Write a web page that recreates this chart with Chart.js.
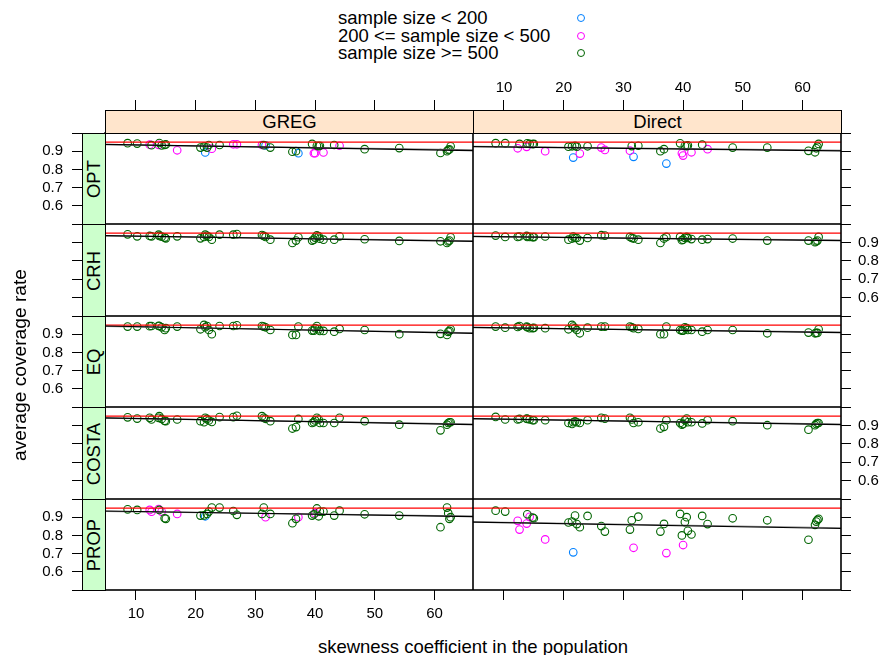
<!DOCTYPE html>
<html><head><meta charset="utf-8">
<script src="https://cdn.jsdelivr.net/npm/chart.js@4/dist/chart.umd.min.js"></script>
<style>
body{margin:0;background:#fff;}
#wrap{position:relative;width:882px;height:655px;overflow:hidden;font-family:"Liberation Sans",Arial,sans-serif;color:#000;}
#wrap canvas{position:absolute;}
.strip{position:absolute;box-sizing:border-box;border:1px solid #000;display:flex;align-items:center;justify-content:center;font-size:18.5px;z-index:5;overflow:hidden;}
.top{background:#ffe5cc;}
.side{background:#ccffcc;}
.side span{transform:rotate(-90deg);white-space:nowrap;display:block;}
.txt{position:absolute;white-space:nowrap;font-size:18.5px;line-height:20px;}
.dot{position:absolute;width:8px;height:8px;box-sizing:border-box;border:1.2px solid;border-radius:50%;}
</style>
</head><body>
<div id="wrap"></div>
<script>
// ---------- data ----------
const methods = ["GREG", "Direct"];
const allocations = ["OPT", "CRH", "EQ", "COSTA", "PROP"];
const sizeLabels = ["sample size < 200", "200 <= sample size < 500", "sample size >= 500"];
const sizeColors = ["#0080ff", "#ff00ff", "#006400"];
const xTicks = [10, 20, 30, 40, 50, 60];
const yTicks = [0.5, 0.6, 0.7, 0.8, 0.9, 1.0];
const target = 0.95;

// skewness coefficient of each population
const skew = [8.6,10.2,12.3,12.6,13.8,13.9,14.3,14.8,15.0,16.9, 20.8,21.4,21.6,21.9,22.2,22.7,24.0,26.3,26.9,31.1, 31.4,31.7,32.5,36.2,36.8,37.2,39.5,39.8,40.0,40.3, 40.6,40.8,41.4,43.2,44.1,48.3,54.1,61.0,62.1,62.3, 62.5,62.7];

// sample size class per population (0: <200, 1: 200-500, 2: >=500)
const classOPT  = [2,2,1,2,1,2,2,2,2,1, 2,2,0,2,2,1,2,1,1,1, 2,0,2,2,2,0,2,1,1,2, 2,2,1,2,1,2,2,2,2,2, 2,2];
const classPROP = [2,2,1,1,1,2,1,2,2,1, 2,2,0,2,2,2,2,2,2,2, 2,1,2,2,2,1,2,2,1,2, 2,2,2,2,2,2,2,2,2,2, 2,2];
const classAll  = [2,2,2,2,2,2,2,2,2,2, 2,2,2,2,2,2,2,2,2,2, 2,2,2,2,2,2,2,2,2,2, 2,2,2,2,2,2,2,2,2,2, 2,2];

// average coverage rate per population
const covGREG_OPT   = [0.944,0.942,0.936,0.933,0.935,0.945,0.932,0.935,0.937,0.905, 0.920,0.925,0.893,0.920,0.934,0.914,0.934,0.938,0.938,0.934, 0.933,0.932,0.920,0.897,0.900,0.889,0.940,0.889,0.889,0.930, 0.928,0.930,0.893,0.934,0.930,0.911,0.917,0.890,0.900,0.907, 0.910,0.927];
const covDirect_OPT = [0.944,0.944,0.916,0.940,0.924,0.943,0.940,0.939,0.940,0.900, 0.925,0.927,0.865,0.929,0.925,0.887,0.927,0.920,0.907,0.903, 0.928,0.869,0.930,0.900,0.911,0.832,0.943,0.889,0.876,0.930, 0.928,0.932,0.894,0.936,0.911,0.920,0.920,0.902,0.894,0.916, 0.925,0.940];
const covGREG_CRH   = [0.944,0.933,0.935,0.933,0.942,0.935,0.931,0.926,0.922,0.933, 0.922,0.930,0.942,0.936,0.930,0.915,0.942,0.942,0.945,0.940, 0.935,0.930,0.915,0.897,0.910,0.928,0.910,0.915,0.926,0.938, 0.933,0.920,0.915,0.915,0.933,0.917,0.908,0.906,0.897,0.905, 0.910,0.928];
const covDirect_CRH = [0.937,0.930,0.930,0.932,0.935,0.930,0.930,0.929,0.929,0.932, 0.915,0.921,0.932,0.924,0.924,0.910,0.924,0.939,0.937,0.930, 0.924,0.921,0.915,0.897,0.921,0.930,0.930,0.912,0.915,0.925, 0.930,0.924,0.918,0.915,0.918,0.921,0.910,0.910,0.901,0.905, 0.910,0.930];
const covGREG_EQ    = [0.942,0.942,0.944,0.945,0.946,0.945,0.938,0.923,0.933,0.942, 0.927,0.951,0.938,0.945,0.923,0.900,0.945,0.945,0.949,0.945, 0.942,0.938,0.923,0.896,0.896,0.942,0.920,0.920,0.933,0.945, 0.927,0.918,0.918,0.914,0.929,0.923,0.900,0.902,0.896,0.913, 0.918,0.927];
const covDirect_EQ  = [0.942,0.936,0.940,0.945,0.942,0.938,0.933,0.933,0.935,0.933, 0.927,0.951,0.942,0.933,0.923,0.905,0.936,0.942,0.942,0.942, 0.938,0.933,0.929,0.900,0.900,0.942,0.923,0.920,0.920,0.938, 0.933,0.923,0.923,0.914,0.923,0.923,0.905,0.909,0.905,0.907, 0.907,0.927];
const covGREG_COSTA   = [0.944,0.937,0.941,0.932,0.941,0.950,0.935,0.925,0.923,0.932, 0.923,0.917,0.941,0.935,0.927,0.919,0.945,0.945,0.952,0.950, 0.941,0.936,0.923,0.883,0.891,0.935,0.913,0.917,0.927,0.941, 0.932,0.913,0.913,0.913,0.941,0.923,0.904,0.873,0.904,0.913, 0.917,0.917];
const covDirect_COSTA = [0.946,0.932,0.932,0.935,0.937,0.935,0.932,0.928,0.928,0.928, 0.913,0.908,0.917,0.922,0.917,0.913,0.928,0.941,0.937,0.941, 0.932,0.913,0.917,0.883,0.892,0.928,0.913,0.904,0.908,0.928, 0.937,0.917,0.917,0.911,0.928,0.923,0.901,0.877,0.901,0.908, 0.913,0.913];
const covGREG_PROP   = [0.943,0.940,0.940,0.930,0.945,0.940,0.931,0.894,0.891,0.918, 0.909,0.910,0.905,0.918,0.931,0.953,0.953,0.934,0.913,0.918, 0.953,0.900,0.918,0.867,0.891,0.900,0.909,0.916,0.922,0.948, 0.905,0.931,0.931,0.909,0.936,0.916,0.909,0.845,0.953,0.922, 0.891,0.900];
const covDirect_PROP = [0.936,0.931,0.880,0.832,0.865,0.916,0.902,0.898,0.894,0.778, 0.871,0.876,0.707,0.909,0.862,0.845,0.907,0.851,0.821,0.832, 0.883,0.732,0.903,0.821,0.863,0.703,0.918,0.800,0.747,0.873, 0.900,0.825,0.805,0.907,0.862,0.894,0.883,0.776,0.858,0.876, 0.885,0.891];

// fitted trend lines: coverage at the left and right ends of the x range
const fitBlackGREG   = [[0.938,0.903],[0.937,0.906],[0.945,0.905],[0.941,0.904],[0.934,0.903]];
const fitBlackDirect = [[0.925,0.902],[0.933,0.910],[0.938,0.909],[0.937,0.904],[0.873,0.838]];
const fitGreyGREG    = [[0.936,0.907],[0.935,0.909],[0.943,0.908],[0.939,0.907],[0.932,0.906]];
const fitGreyDirect  = [[0.927,0.905],[0.931,0.912],[0.936,0.911],[0.935,0.907],[0.875,0.842]];
const xRange = [4.81, 66.45];
const yRange = [0.5, 1.0];

// ---------- build ----------
const coverage = {
  GREG:   {OPT: covGREG_OPT, CRH: covGREG_CRH, EQ: covGREG_EQ, COSTA: covGREG_COSTA, PROP: covGREG_PROP},
  Direct: {OPT: covDirect_OPT, CRH: covDirect_CRH, EQ: covDirect_EQ, COSTA: covDirect_COSTA, PROP: covDirect_PROP}
};
const sizeClass = {OPT: classOPT, CRH: classAll, EQ: classAll, COSTA: classAll, PROP: classPROP};
const fitBlack = {GREG: fitBlackGREG, Direct: fitBlackDirect};
const fitGrey = {GREG: fitGreyGREG, Direct: fitGreyDirect};

const W = 882, H = 655;
const COLS = [105, 473, 841];
const ROWS = [133, 224, 316, 407, 499, 590];
const FONT = '"Liberation Sans", Arial, sans-serif';
const wrap = document.getElementById('wrap');

const borderPlugin = {
  id: 'panelBorder',
  afterDraw(chart) {
    const a = chart.chartArea, ctx = chart.ctx;
    ctx.save();
    ctx.strokeStyle = '#000';
    ctx.lineWidth = 1.6;
    ctx.strokeRect(a.left, a.top, a.right - a.left, a.bottom - a.top);
    ctx.restore();
  }
};

function yLabel(v) {
  if (Math.abs(v - 0.5) < 1e-9 || Math.abs(v - 1) < 1e-9) return '';
  return v.toFixed(1);
}

function axisCommon(tickLen, pad, showLabels, fmt) {
  return {
    grid: {display: true, drawOnChartArea: false, drawTicks: true, tickLength: tickLen, color: '#000', lineWidth: 1},
    border: {display: false},
    ticks: {color: '#000', font: {family: FONT, size: 15}, padding: pad, maxRotation: 0, autoSkip: false,
            callback: (v) => showLabels ? fmt(v) : ''}
  };
}

function fixSize(prop, val) {
  return (s) => {
    s[prop] = val;
    s.paddingTop = 0; s.paddingBottom = 0; s.paddingLeft = 0; s.paddingRight = 0;
  };
}

function buildPanel(c, r) {
  const method = methods[c], alloc = allocations[r];
  const x0 = COLS[c], x1 = COLS[c + 1], y0 = ROWS[r], y1 = ROWS[r + 1];
  const mL = c === 0 ? x0 : 0;
  const mR = c === 1 ? W - x1 : 0;
  const mT = r === 0 ? 63 : 0;
  const mB = r === 4 ? 45 : 0;
  const w = x1 - x0 + mL + mR, h = y1 - y0 + mT + mB;
  const cv = document.createElement('canvas');
  cv.width = w; cv.height = h;
  cv.style.left = (x0 - mL) + 'px'; cv.style.top = (y0 - mT) + 'px';
  cv.style.width = w + 'px'; cv.style.height = h + 'px';
  wrap.appendChild(cv);

  const ys = coverage[method][alloc];
  const cls = sizeClass[alloc];
  const bl = fitBlack[method][r], gr = fitGrey[method][r];
  const lineDs = (vals, color, label) => ({
    type: 'line', label: label, showLine: true,
    data: [{x: xRange[0], y: vals[0]}, {x: xRange[1], y: vals[1]}],
    borderColor: color, borderWidth: 1.2, pointRadius: 0, fill: false
  });
  const datasets = [
    lineDs(bl, '#000000', 'fit'),
    lineDs(gr, '#7f7f7f', 'fit2'),
    lineDs([target, target], '#ff0000', 'target 0.95')
  ];
  for (let k = 2; k >= 0; k--) {
    const pts = [];
    skew.forEach((sx, i) => { if (cls[i] === k) pts.push({x: sx, y: ys[i]}); });
    datasets.push({
      type: 'scatter', label: sizeLabels[k], data: pts,
      pointStyle: 'circle', pointRadius: 3.8, pointBorderWidth: 1.1,
      pointBackgroundColor: 'rgba(0,0,0,0)', pointBorderColor: sizeColors[k],
      borderColor: sizeColors[k], backgroundColor: 'rgba(0,0,0,0)', showLine: false
    });
  }

  const xFmt = (v) => String(v);
  const setX = (s) => { s.ticks = xTicks.map(v => ({value: v})); };
  const setY = (s) => { s.ticks = yTicks.map(v => ({value: v})); };

  new Chart(cv, {
    type: 'scatter',
    data: {datasets},
    options: {
      responsive: false, animation: false, devicePixelRatio: 1,
      layout: {padding: 0, autoPadding: false},
      plugins: {legend: {display: false}, tooltip: {enabled: false}},
      events: [],
      scales: {
        x: Object.assign({type: 'linear', position: 'bottom', min: xRange[0], max: xRange[1], display: r === 4,
              afterBuildTicks: setX, afterFit: fixSize('height', mB)},
              axisCommon(10, 5, c === 0, xFmt)),
        xTop: Object.assign({type: 'linear', position: 'top', min: xRange[0], max: xRange[1], display: r === 0,
              afterBuildTicks: setX, afterFit: fixSize('height', mT)},
              axisCommon(33, 3, c === 1, xFmt)),
        y: Object.assign({type: 'linear', position: 'left', min: yRange[0], max: yRange[1], display: c === 0,
              afterBuildTicks: setY, afterFit: fixSize('width', mL)},
              axisCommon(33, 9, r % 2 === 0, yLabel)),
        yRight: Object.assign({type: 'linear', position: 'right', min: yRange[0], max: yRange[1], display: c === 1,
              afterBuildTicks: setY, afterFit: fixSize('width', mR)},
              axisCommon(10, 7, r % 2 === 1, yLabel))
      }
    },
    plugins: [borderPlugin]
  });
}

for (let r = 0; r < 5; r++) for (let c = 0; c < 2; c++) buildPanel(c, r);

// strips
methods.forEach((m, c) => {
  const d = document.createElement('div');
  d.className = 'strip top';
  d.style.left = COLS[c] + 'px'; d.style.top = '110px';
  d.style.width = (COLS[c + 1] - COLS[c] + 1) + 'px'; d.style.height = '24px';
  d.textContent = m;
  wrap.appendChild(d);
});
allocations.forEach((a, r) => {
  const d = document.createElement('div');
  d.className = 'strip side';
  d.style.left = '82px'; d.style.top = ROWS[r] + 'px';
  d.style.width = '24px'; d.style.height = (ROWS[r + 1] - ROWS[r] + 1) + 'px';
  const s = document.createElement('span'); s.textContent = a; d.appendChild(s);
  wrap.appendChild(d);
});

// legend
sizeLabels.forEach((t, k) => {
  const cy = [18.3, 35.8, 52.8][k];
  const d = document.createElement('div');
  d.className = 'txt'; d.style.left = '338px'; d.style.top = (cy - 10) + 'px';
  d.textContent = t; wrap.appendChild(d);
  const o = document.createElement('div');
  o.className = 'dot'; o.style.left = '576.7px'; o.style.top = (cy - 4) + 'px';
  o.style.borderColor = sizeColors[k]; wrap.appendChild(o);
});

// axis titles
const xt = document.createElement('div');
xt.className = 'txt'; xt.textContent = 'skewness coefficient in the population';
xt.style.left = '473px'; xt.style.top = '637px'; xt.style.transform = 'translateX(-50%)';
wrap.appendChild(xt);
const yt = document.createElement('div');
yt.className = 'txt'; yt.textContent = 'average coverage rate';
yt.style.fontSize = '19.2px';
yt.style.left = '20px'; yt.style.top = '365px'; yt.style.transform = 'translate(-50%,-50%) rotate(-90deg)';
wrap.appendChild(yt);
</script>
</body></html>
